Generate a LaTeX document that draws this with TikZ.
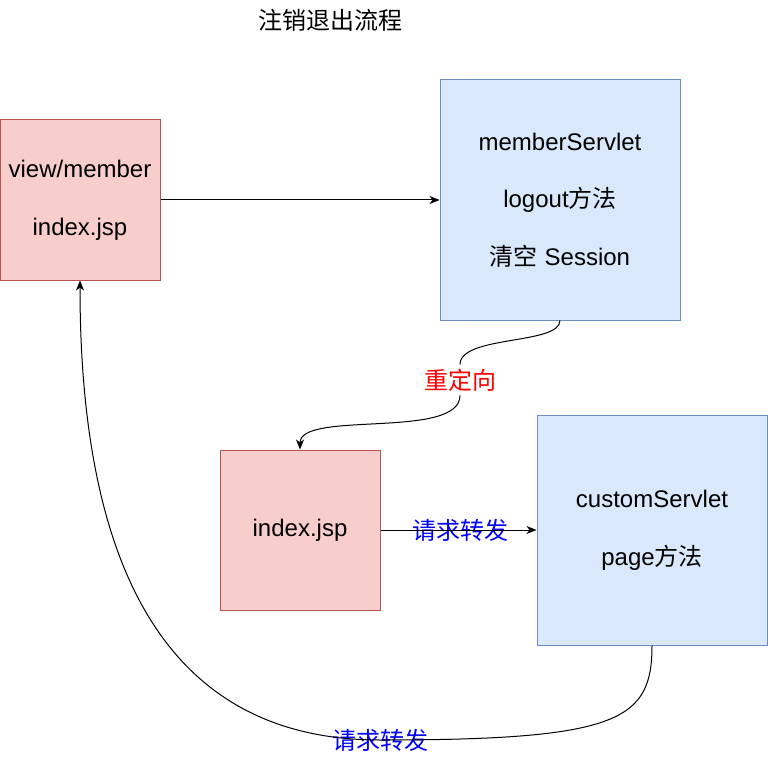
\documentclass[tikz,border=0pt]{standalone}
\usepackage{fontspec}
\setmainfont{Liberation Sans}
\newfontfamily\cjk{Noto Sans CJK SC}
\usetikzlibrary{arrows.meta}
\definecolor{redfill}{HTML}{F8CECC}
\definecolor{redline}{HTML}{B85450}
\definecolor{bluefill}{HTML}{DAE8FC}
\definecolor{blueline}{HTML}{6C8EBF}
\tikzset{
	redbox/.style={draw=redline, fill=redfill, line width=1pt, minimum width=160pt, minimum height=160pt, align=center},
	bluebox/.style={draw=blueline, fill=bluefill, line width=1pt, align=center},
	conn/.style={line width=1pt, -{Stealth[length=10pt,width=8pt,inset=3pt]}},
	txt/.style={font=\fontsize{24}{28.8}\selectfont}
}
\begin{document}
\begin{tikzpicture}[x=1pt, y=1pt, txt]
	\useasboundingbox (0,0) rectangle (768,-762);
	\node (title) at (330,-20) {\cjk 注销退出流程};
	% boxes
	\node[redbox] (view) at (80,-200) {view/member\\[28.8pt]index.jsp};
	\node[bluebox, minimum width=240pt, minimum height=240pt] (member) at (560,-200)
		{memberServlet\\[28.8pt]logout{\cjk 方法}\\[28.8pt]{\cjk 清空} Session};
	\node[redbox] (index) at (300,-530) {index.jsp};
	\node[bluebox, minimum width=230pt, minimum height=230pt] (custom) at (652,-530)
		{customServlet\\[28.8pt]page{\cjk 方法}};
	% labels
	\node[fill=white, text=red, inner sep=4pt] (redir) at (460,-380) {\cjk 重定向};
	\node[text=blue, inner sep=0pt] (fwdone) at (460,-530) {\cjk 请求转发};
	\node[text=blue, inner sep=0pt] (fwdtwo) at (380,-740) {\cjk 请求转发};
	% connectors
	\draw[conn] (view.east) -- (member.west);
	\draw[line width=1pt] (member.south) .. controls (560,-345) and (460,-335) .. (redir.north);
	\draw[conn] (redir.south) .. controls (460,-440) and (300,-410) .. (index.north);
	\draw[conn] (index.east) -- (custom.west);
	\draw[conn] (custom.south) .. controls (652,-720) and (620,-740) .. (fwdtwo.center)
		.. controls (150,-740) and (80,-540) .. (view.south);
\end{tikzpicture}
\end{document}
